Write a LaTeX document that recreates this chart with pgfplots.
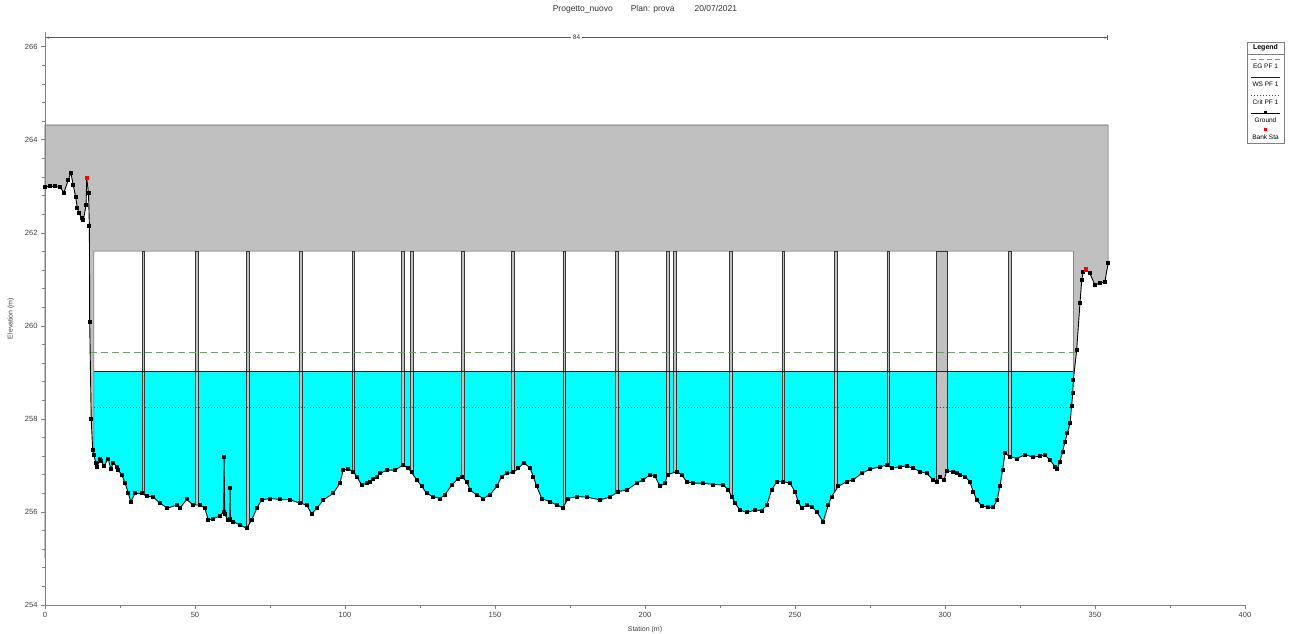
\documentclass[border=0pt]{standalone}
\usepackage{fontspec}
\setmainfont{Liberation Sans}
\usepackage{pgfplots}
\pgfplotsset{compat=1.18}
\usepackage{pgfplotstable}
\usetikzlibrary{arrows.meta}

\definecolor{deck}{RGB}{192,192,192}
\definecolor{edge}{RGB}{90,90,90}
\definecolor{pieredge}{RGB}{55,55,55}
\definecolor{water}{RGB}{0,255,255}
\definecolor{egc}{RGB}{110,160,110}
\definecolor{axisgray}{RGB}{128,128,128}

\pgfplotstableread{
st el
0 262.99
1.5 263.00
3.3 263.00
5.0 262.98
6.3 262.87
7.8 263.14
8.6 263.30
9.4 263.03
10.2 262.78
10.8 262.53
11.4 262.42
12.2 262.32
12.8 262.28
13.7 262.60
13.9 263.18
14.5 262.85
14.8 262.15
14.9 260.09
15.4 258.01
15.9 257.33
16.2 257.23
17.0 257.05
17.4 256.97
18.3 257.15
18.7 257.10
19.7 256.99
21.1 257.15
21.9 256.92
22.8 257.06
23.9 256.97
24.4 256.90
25.6 256.80
26.7 256.62
27.8 256.40
28.6 256.22
30.0 256.40
32.2 256.40
33.9 256.34
36.1 256.32
38.3 256.19
40.8 256.08
43.9 256.15
45.0 256.08
47.2 256.27
49.4 256.15
51.7 256.15
53.3 256.08
54.4 255.83
56.1 255.86
58.3 255.91
59.5 256.01
59.7 257.19
59.9 255.95
61.1 255.83
61.6 255.85
61.7 256.51
61.8 255.83
62.8 255.79
65.0 255.72
67.2 255.65
68.9 255.83
70.6 256.08
72.2 256.26
75.0 256.29
78.3 256.27
81.7 256.26
85.0 256.19
87.2 256.15
88.9 255.96
90.6 256.08
92.8 256.26
96.1 256.40
98.3 256.62
99.4 256.90
101.1 256.92
102.8 256.87
103.9 256.76
105.6 256.58
107.2 256.62
108.3 256.65
109.4 256.72
110.6 256.76
111.7 256.83
113.9 256.90
116.7 256.90
119.4 257.01
121.1 256.94
122.2 256.85
123.9 256.69
125.6 256.55
127.2 256.40
129.4 256.33
131.7 256.29
133.3 256.37
135.6 256.58
137.8 256.72
138.9 256.76
140.6 256.65
141.7 256.47
143.9 256.37
146.1 256.29
148.3 256.37
150.6 256.55
152.2 256.76
153.9 256.83
156.1 256.85
157.8 256.94
159.7 257.06
161.7 256.94
162.8 256.76
163.9 256.55
165.6 256.29
168.3 256.22
170.6 256.15
172.6 256.09
174.4 256.29
177.2 256.33
180.6 256.32
185.0 256.26
188.3 256.32
191.1 256.44
193.9 256.47
197.2 256.62
199.4 256.69
201.7 256.80
203.3 256.77
205.0 256.55
206.7 256.62
207.5 256.80
210.6 256.87
212.2 256.80
213.9 256.65
216.1 256.62
219.4 256.62
222.8 256.59
226.1 256.58
227.8 256.47
228.9 256.33
230.0 256.19
231.7 256.04
233.9 255.99
236.7 256.04
238.9 256.03
240.6 256.15
242.2 256.47
243.9 256.65
246.1 256.65
248.3 256.62
250.0 256.44
251.1 256.22
252.2 256.08
253.9 256.15
255.6 256.11
257.2 256.01
259.4 255.79
261.1 256.15
262.2 256.33
264.4 256.55
267.2 256.65
269.4 256.69
272.2 256.83
275.0 256.92
278.3 256.97
280.6 257.01
282.2 256.94
285.0 256.97
287.2 256.99
289.4 256.94
291.7 256.87
293.9 256.83
296.1 256.69
297.2 256.65
298.3 256.76
299.7 256.69
300.6 256.88
302.8 256.87
303.9 256.83
305.0 256.80
306.7 256.76
308.3 256.65
309.4 256.44
310.6 256.26
312.2 256.13
314.4 256.10
316.1 256.10
317.4 256.26
318.3 256.55
319.2 256.90
320.0 257.26
321.7 257.19
323.9 257.15
326.7 257.23
329.4 257.18
331.7 257.20
333.3 257.23
335.0 257.12
336.7 256.97
337.4 256.92
338.3 257.08
339.2 257.30
340.0 257.51
340.8 257.69
341.7 257.91
342.2 258.27
342.6 258.55
342.8 258.84
343.9 259.48
345.0 260.49
345.6 260.99
346.1 261.17
347.0 261.22
348.3 261.13
350.0 260.88
351.7 260.92
353.3 260.95
354.4 261.35
}\ground

\begin{document}
\begin{tikzpicture}
\begin{axis}[
  at={(0,0)}, anchor=south west,
  scale only axis, width=1200pt, height=573pt,
  xmin=0, xmax=400, ymin=254, ymax=266.32,
  axis x line*=bottom, axis y line*=left,
  axis line style={axisgray, line width=0.8pt},
  xtick={0,50,...,400}, ytick={254,256,...,266},
  minor x tick num=1, minor y tick num=4,
  tick align=outside,
  major tick length=4pt, minor tick length=3pt,
  tick style={axisgray, line width=0.8pt},
  tick label style={font=\fontsize{7.5}{8}\selectfont, text=black!75},
  /pgf/number format/assume math mode=true,
  xlabel={Station (m)}, ylabel={Elevation (m)},
  label style={font=\fontsize{7}{8}\selectfont, text=black!75},
  xlabel style={at={(axis description cs:0.5,0)}, anchor=base, yshift=-26pt},
  ylabel style={at={(axis description cs:-0.027,0.5)}, anchor=base},
  title={Progetto\_nuovo\hspace{18pt}Plan: prova\hspace{20pt}20/07/2021},
  title style={at={(axis description cs:0.5,1)}, anchor=base, yshift=14pt, font=\fontsize{8.5}{10}\selectfont, text=black!80},
  clip=false, axis on top,
]
% water
\addplot[fill=water, draw=none] coordinates {(16.3,255)(16.3,259.03)(342.8,259.03)(342.8,255)(16.3,255)};
% deck and abutments
\addplot[fill=deck, draw=edge, line width=0.6pt] coordinates {(0,255)(0,264.32)(354.4,264.32)(354.4,261.35)(342.8,255)(342.8,261.61)(16.3,261.61)(16.3,255)(0,255)};
% piers
\addplot[fill=deck, draw=pieredge, line width=0.7pt, unbounded coords=jump] coordinates {
(32.35,255)(32.35,261.61)(33.25,261.61)(33.25,255) (nan,nan)
(50.15,255)(50.15,261.61)(51.05,261.61)(51.05,255) (nan,nan)
(67.15,255)(67.15,261.61)(68.05,261.61)(68.05,255) (nan,nan)
(84.75,255)(84.75,261.61)(85.65,261.61)(85.65,255) (nan,nan)
(102.35,255)(102.35,261.61)(103.25,261.61)(103.25,255) (nan,nan)
(118.95,255)(118.95,261.61)(119.85,261.61)(119.85,255) (nan,nan)
(121.75,255)(121.75,261.61)(122.65,261.61)(122.65,255) (nan,nan)
(138.95,255)(138.95,261.61)(139.85,261.61)(139.85,255) (nan,nan)
(155.45,255)(155.45,261.61)(156.35,261.61)(156.35,255) (nan,nan)
(172.65,255)(172.65,261.61)(173.55,261.61)(173.55,255) (nan,nan)
(190.15,255)(190.15,261.61)(191.05,261.61)(191.05,255) (nan,nan)
(207.25,255)(207.25,261.61)(208.15,261.61)(208.15,255) (nan,nan)
(209.55,255)(209.55,261.61)(210.45,261.61)(210.45,255) (nan,nan)
(228.15,255)(228.15,261.61)(229.05,261.61)(229.05,255) (nan,nan)
(245.65,255)(245.65,261.61)(246.55,261.61)(246.55,255) (nan,nan)
(263.15,255)(263.15,261.61)(264.05,261.61)(264.05,255) (nan,nan)
(280.65,255)(280.65,261.61)(281.55,261.61)(281.55,255) (nan,nan)
(297.2,255)(297.2,261.61)(300.7,261.61)(300.7,255) (nan,nan)
(321.25,255)(321.25,261.61)(322.15,261.61)(322.15,255)
};
% EG, WS, Crit
\addplot[egc, line width=0.8pt, dash pattern=on 7pt off 4pt] coordinates {(14.9,259.44)(343.9,259.44)};
\addplot[blue, line width=0.6pt] coordinates {(16.3,259.03)(342.8,259.03)};
\addplot[red, line width=0.8pt, dash pattern=on 1pt off 2pt] coordinates {(15.3,258.24)(342.3,258.24)};
% white below ground
\addplot[fill=white, draw=none] table[x=st,y=el]{\ground} -- (axis cs:354.4,254) -- (axis cs:0,254) -- cycle;
% ground
\addplot[black, line width=0.9pt, mark=square*, mark size=1.5pt] table[x=st,y=el]{\ground};
% bank stations
\addplot[only marks, mark=square*, mark size=1.6pt, red] coordinates {(13.9,263.18)(347.0,261.22)};
% bridge bracket
\draw[edge, line width=0.8pt, {Bar[width=5pt]Latex[length=3pt]}-{Latex[length=3pt]Bar[width=5pt]}] (axis cs:0,266.2) -- (axis cs:354.4,266.2) node[midway, fill=white, inner sep=2pt, font=\fontsize{6.5}{7}\selectfont, text=black!75]{84};
\end{axis}
% legend
\begin{scope}[font=\fontsize{6.5}{7}\selectfont]
\draw[axisgray, line width=0.6pt, fill=white] (1202pt,462pt) rectangle (1239pt,563pt);
\draw[axisgray, line width=0.6pt] (1202pt,551pt) -- (1239pt,551pt);
\node[font=\fontsize{7}{8}\selectfont\bfseries] at (1220.5pt,557pt) {Legend};
\draw[egc, line width=0.8pt, dash pattern=on 5pt off 3pt] (1206pt,546pt) -- (1235pt,546pt);
\node at (1220.5pt,539pt) {EG PF 1};
\draw[blue, line width=0.8pt] (1206pt,528pt) -- (1235pt,528pt);
\node at (1220.5pt,521pt) {WS PF 1};
\draw[red, line width=0.8pt, dash pattern=on 1pt off 2pt] (1206pt,510pt) -- (1235pt,510pt);
\node at (1220.5pt,503pt) {Crit PF 1};
\draw[black, line width=0.9pt] (1206pt,492pt) -- (1235pt,492pt);
\fill[black] (1219pt,490.5pt) rectangle (1222pt,493.5pt);
\node at (1220.5pt,485pt) {Ground};
\fill[red] (1219pt,473.5pt) rectangle (1222pt,476.5pt);
\node at (1220.5pt,468pt) {Bank Sta};
\end{scope}
\pgfresetboundingbox
\path[use as bounding box] (-45pt,-29pt) rectangle (1245pt,605pt);
\end{tikzpicture}
\end{document}
